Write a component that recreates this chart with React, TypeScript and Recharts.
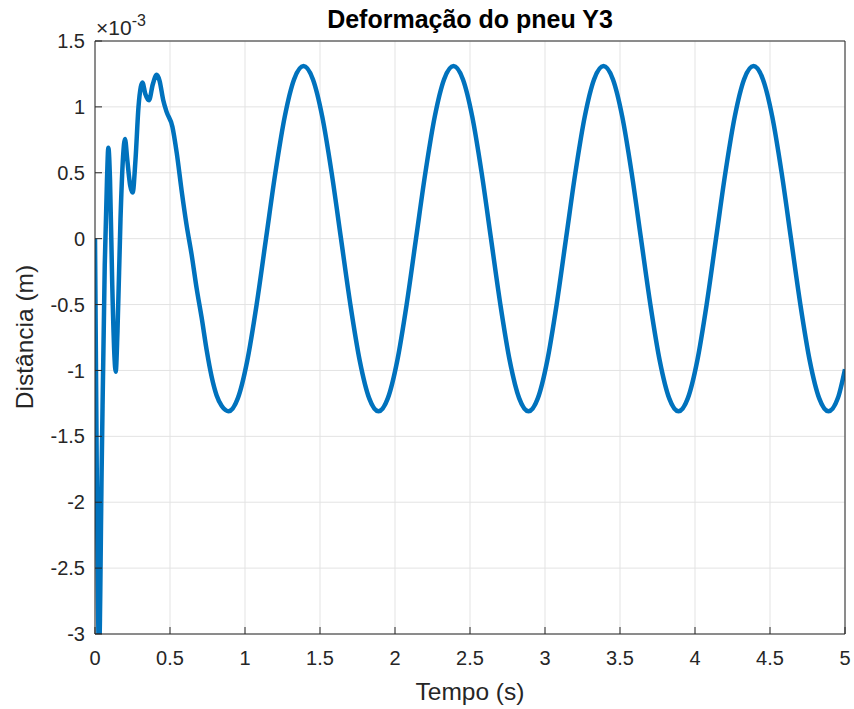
import React from "react";
import { LineChart, Line, XAxis, YAxis, CartesianGrid } from "recharts";

// Time (s)
const timeS: number[] = [
  0, 0.012, 0.027, 0.045, 0.065, 0.08, 0.089, 0.1, 0.115, 0.13, 0.138, 0.15, 0.17, 0.187,
  0.2, 0.215, 0.235, 0.251, 0.27, 0.29, 0.305, 0.316, 0.335, 0.36, 0.385, 0.411, 0.43,
  0.455, 0.478, 0.516, 0.545, 0.578, 0.611, 0.644, 0.678, 0.711, 0.745, 0.778, 0.811, 0.845, 0.87,
  0.89, 0.9525, 1.015, 1.0775, 1.14, 1.2025, 1.265, 1.3275, 1.39, 1.4525, 1.515, 1.5775, 1.64, 1.7025, 1.765, 1.8275,
  1.89, 1.9525, 2.015, 2.0775, 2.14, 2.2025, 2.265, 2.3275, 2.39, 2.4525, 2.515, 2.5775, 2.64, 2.7025, 2.765, 2.8275,
  2.89, 2.9525, 3.015, 3.0775, 3.14, 3.2025, 3.265, 3.3275, 3.39, 3.4525, 3.515, 3.5775, 3.64, 3.7025, 3.765, 3.8275,
  3.89, 3.9525, 4.015, 4.0775, 4.14, 4.2025, 4.265, 4.3275, 4.39, 4.4525, 4.515, 4.5775, 4.64, 4.7025, 4.765, 4.8275,
  4.89, 4.9525, 5.0,
];

// Tyre deformation (x 10^-3 m)
const deformation: number[] = [
  0, -1.8, -3.15, -1.7, -0.2, 0.45, 0.69, 0.45, -0.35, -0.9, -1.01, -0.7, 0.15, 0.62,
  0.757, 0.6, 0.4, 0.35, 0.6, 1.0, 1.15, 1.186, 1.1, 1.05, 1.17, 1.243, 1.2,
  1.05, 0.96, 0.85, 0.65, 0.36, 0.1, -0.12, -0.38, -0.6, -0.85, -1.05, -1.19, -1.27, -1.3,
  -1.31, -1.21, -0.926, -0.5, 0, 0.5, 0.926, 1.21, 1.31, 1.21, 0.926, 0.5, 0, -0.5, -0.926, -1.21,
  -1.31, -1.21, -0.926, -0.5, 0, 0.5, 0.926, 1.21, 1.31, 1.21, 0.926, 0.5, 0, -0.5, -0.926, -1.21,
  -1.31, -1.21, -0.926, -0.5, 0, 0.5, 0.926, 1.21, 1.31, 1.21, 0.926, 0.5, 0, -0.5, -0.926, -1.21,
  -1.31, -1.21, -0.926, -0.5, 0, 0.5, 0.926, 1.21, 1.31, 1.21, 0.926, 0.5, 0, -0.5, -0.926, -1.21,
  -1.31, -1.21, -0.99,
];

const xTicks: number[] = [0, 0.5, 1, 1.5, 2, 2.5, 3, 3.5, 4, 4.5, 5];
const yTicks: number[] = [-3, -2.5, -2, -1.5, -1, -0.5, 0, 0.5, 1, 1.5];

const titleText = "Deformação do pneu Y3";
const xLabelText = "Tempo (s)";
const yLabelText = "Distância (m)";

const data = timeS.map((t, i) => ({ t, y: deformation[i] }));

const W = 854;
const H = 709;
const FONT = "'Liberation Sans', Arial, Helvetica, sans-serif";
const AX = "#262626";
const GRID = "#e3e3e3";

export default function App() {
  return (
    <div style={{ position: "relative", width: W, height: H, fontFamily: FONT, overflow: "hidden" }}>
      <style>{`html,body{margin:0;padding:0;overflow:hidden;background:#fff}.recharts-surface{display:block}`}</style>
      <LineChart
        width={W}
        height={H}
        data={data}
        margin={{ top: 40, right: 8, left: 35, bottom: 15 }}
      >
        <CartesianGrid stroke={GRID} strokeWidth={1} />
        <XAxis
          dataKey="t"
          type="number"
          domain={[0, 5]}
          ticks={xTicks}
          allowDataOverflow
          height={60}
          stroke={AX}
          tickSize={-7}
          tickMargin={24}
          tick={{ fill: AX, fontSize: 20, fontFamily: FONT }}
        />
        <XAxis
          xAxisId="top"
          orientation="top"
          type="number"
          domain={[0, 5]}
          ticks={xTicks}
          height={1}
          stroke={AX}
          tickSize={-7}
          tick={false}
        />
        <YAxis
          type="number"
          domain={[-3, 1.5]}
          ticks={yTicks}
          allowDataOverflow
          width={60}
          stroke={AX}
          tickSize={-7}
          tickMargin={17}
          tick={{ fill: AX, fontSize: 20, fontFamily: FONT }}
        />
        <YAxis
          yAxisId="right"
          orientation="right"
          type="number"
          domain={[-3, 1.5]}
          ticks={yTicks}
          width={1}
          stroke={AX}
          tickSize={-7}
          tick={false}
        />
        <Line
          dataKey="y"
          type="monotone"
          stroke="#0072BD"
          strokeWidth={4.5}
          dot={false}
          isAnimationActive={false}
        />
      </LineChart>
      <svg
        width={W}
        height={H}
        style={{ position: "absolute", left: 0, top: 0, pointerEvents: "none" }}
      >
        <text x={470} y={28} textAnchor="middle" fontFamily={FONT} fontWeight="bold" fontSize={25} fill="#000">
          {titleText}
        </text>
        <text x={96} y={35} fontFamily={FONT} fontSize={21} fill={AX}>
          ×10
          <tspan dy={-9} fontSize={16}>-3</tspan>
        </text>
        <text x={470} y={700} textAnchor="middle" fontFamily={FONT} fontSize={24.5} fill={AX}>
          {xLabelText}
        </text>
        <text
          transform="translate(33,337) rotate(-90)"
          textAnchor="middle"
          fontFamily={FONT}
          fontSize={24.5}
          fill={AX}
        >
          {yLabelText}
        </text>
      </svg>
    </div>
  );
}
